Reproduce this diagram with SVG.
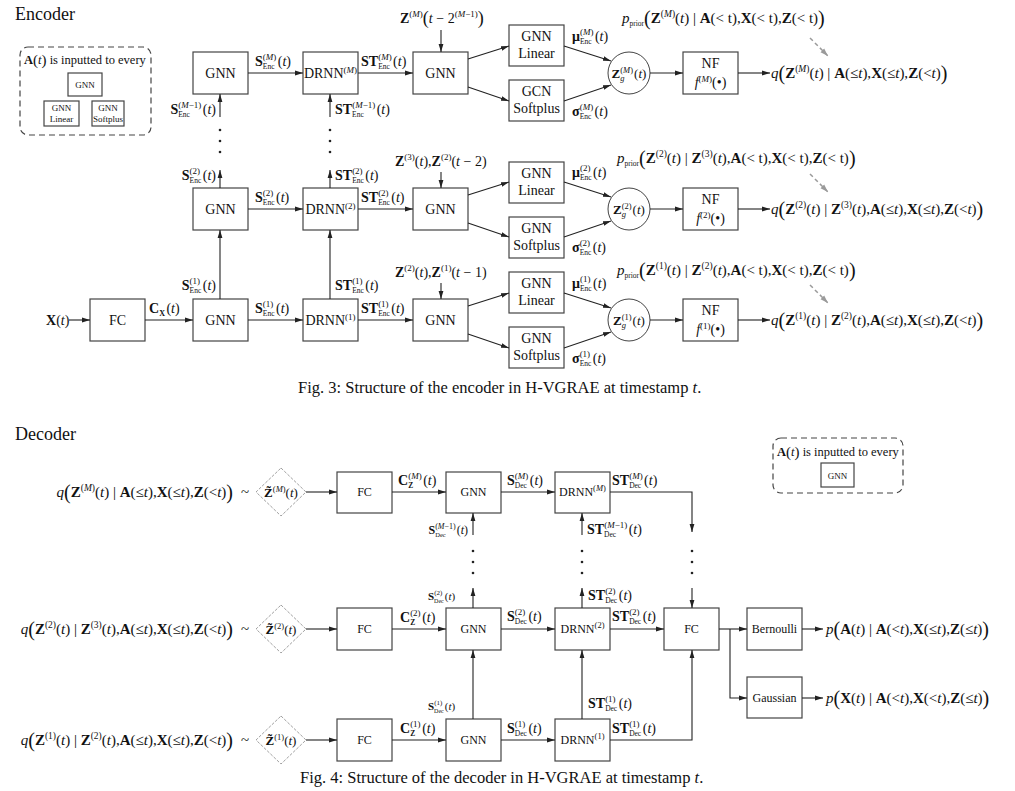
<svg xmlns="http://www.w3.org/2000/svg" width="1015" height="791" viewBox="0 0 1015 791">
<defs>
<style>
.t{font-family:"Liberation Serif","Times New Roman",serif;fill:#111}
.b{font-weight:bold}
.i{font-style:italic}
.bx{fill:#fff;stroke:#444;stroke-width:1.2}
.ln{fill:none;stroke:#222;stroke-width:1.1}
.ar{marker-end:url(#ah)}
.dl{fill:none;stroke:#444;stroke-width:1.2;stroke-dasharray:6 4}
.gd{fill:none;stroke:#9a9a9a;stroke-width:1.5;stroke-dasharray:4 3;marker-end:url(#ahg)}
.dm{fill:#fff;stroke:#888;stroke-width:0.8;stroke-dasharray:3 1.5}
.bl{font-size:14px;text-anchor:middle}
.sl{font-size:12px;text-anchor:middle}
.lg{font-size:9px;text-anchor:middle}
.lb{font-size:14px}
.q{font-size:15px}
.cap{font-size:16.5px}
.dot{fill:#222}
</style>
<marker id="ah" markerUnits="userSpaceOnUse" markerWidth="8" markerHeight="8" viewBox="0 0 8 8" refX="8" refY="4" orient="auto"><path d="M0,1.6 L8,4 L0,6.4 z" fill="#222"/></marker>
<marker id="ahg" markerUnits="userSpaceOnUse" markerWidth="8" markerHeight="8" viewBox="0 0 8 8" refX="8" refY="4" orient="auto"><path d="M0,1.4 L8,4 L0,6.6 z" fill="#9a9a9a"/></marker>
</defs>
<rect width="1015" height="791" fill="#fff"/>

<!-- ================= ENCODER ================= -->
<text class="t" x="15" y="20" font-size="18">Encoder</text>

<g id="enc-legend">
<rect class="dl" x="20" y="47" width="131" height="88" rx="8"/>
<text class="t" x="24" y="64" font-size="12.5"><tspan class="b">A</tspan><tspan font-size="15" dy="1">(</tspan><tspan class="i" dy="-1">t</tspan><tspan font-size="15" dy="1">)</tspan><tspan dy="-1"> is inputted to every</tspan></text>
<rect class="bx" x="68" y="73" width="34" height="23"/>
<text class="t lg" x="85" y="88">GNN</text>
<rect class="bx" x="44" y="101" width="35" height="25"/>
<text class="t lg" x="61.5" y="111">GNN</text>
<text class="t lg" x="61.5" y="122">Linear</text>
<rect class="bx" x="92" y="101" width="32" height="25"/>
<text class="t lg" x="108" y="111" font-size="8.5">GNN</text>
<text class="t lg" x="108" y="122" font-size="8.5">Softplus</text>
</g>

<!-- Encoder boxes -->
<g id="enc-fc"><rect class="bx" x="90" y="299" width="55" height="42"/><text class="t bl" x="117.5" y="325">FC</text></g>

<g id="enc-gnn-M"><rect class="bx" x="193" y="52" width="55" height="42"/><text class="t bl" x="220.5" y="78">GNN</text></g>
<g id="enc-gnn-2"><rect class="bx" x="193" y="188" width="55" height="42"/><text class="t bl" x="220.5" y="214">GNN</text></g>
<g id="enc-gnn-1"><rect class="bx" x="193" y="299" width="55" height="42"/><text class="t bl" x="220.5" y="325">GNN</text></g>

<g id="enc-drnn-M"><rect class="bx" x="303" y="52" width="55" height="42"/><text class="t bl" x="330.5" y="78" font-size="13">DRNN<tspan font-size="9" dy="-5">(<tspan class="i">M</tspan>)</tspan></text></g>
<g id="enc-drnn-2"><rect class="bx" x="303" y="188" width="55" height="42"/><text class="t bl" x="330.5" y="214" font-size="13">DRNN<tspan font-size="9" dy="-5">(2)</tspan></text></g>
<g id="enc-drnn-1"><rect class="bx" x="303" y="299" width="55" height="42"/><text class="t bl" x="330.5" y="325" font-size="13">DRNN<tspan font-size="9" dy="-5">(1)</tspan></text></g>

<g id="enc-gnn3-M"><rect class="bx" x="413" y="52" width="55" height="42"/><text class="t bl" x="440.5" y="78">GNN</text></g>
<g id="enc-gnn3-2"><rect class="bx" x="413" y="188" width="55" height="42"/><text class="t bl" x="440.5" y="214">GNN</text></g>
<g id="enc-gnn3-1"><rect class="bx" x="413" y="299" width="55" height="42"/><text class="t bl" x="440.5" y="325">GNN</text></g>

<g id="enc-lin-M"><rect class="bx" x="509" y="25" width="55" height="41"/><text class="t bl" x="536.5" y="41">GNN</text><text class="t bl" x="536.5" y="58">Linear</text></g>
<g id="enc-soft-M"><rect class="bx" x="509" y="80" width="55" height="41"/><text class="t bl" x="536.5" y="96">GCN</text><text class="t bl" x="536.5" y="113">Softplus</text></g>
<g id="enc-lin-2"><rect class="bx" x="509" y="162" width="55" height="41"/><text class="t bl" x="536.5" y="178">GNN</text><text class="t bl" x="536.5" y="195">Linear</text></g>
<g id="enc-soft-2"><rect class="bx" x="509" y="217" width="55" height="41"/><text class="t bl" x="536.5" y="233">GNN</text><text class="t bl" x="536.5" y="250">Softplus</text></g>
<g id="enc-lin-1"><rect class="bx" x="509" y="272" width="55" height="41"/><text class="t bl" x="536.5" y="288">GNN</text><text class="t bl" x="536.5" y="305">Linear</text></g>
<g id="enc-soft-1"><rect class="bx" x="509" y="327" width="55" height="41"/><text class="t bl" x="536.5" y="343">GNN</text><text class="t bl" x="536.5" y="360">Softplus</text></g>

<g id="enc-zg-M"><circle cx="629" cy="73" r="21" fill="#fff" stroke="#444" stroke-width="1"/><text class="t" x="629" y="78" font-size="13" text-anchor="middle"><tspan class="b">Z</tspan><tspan font-size="8.5" dy="-5">(<tspan class="i">M</tspan>)</tspan><tspan font-size="8.5" class="i" dx="-12.7" dy="8">g</tspan><tspan dx="9.5" dy="-3">(<tspan class="i">t</tspan>)</tspan></text></g>
<g id="enc-zg-2"><circle cx="629" cy="209" r="21" fill="#fff" stroke="#444" stroke-width="1"/><text class="t" x="629" y="214" font-size="13" text-anchor="middle"><tspan class="b">Z</tspan><tspan font-size="8.5" dy="-5">(2)</tspan><tspan font-size="8.5" class="i" dx="-9.9" dy="8">g</tspan><tspan dx="6.5" dy="-3">(<tspan class="i">t</tspan>)</tspan></text></g>
<g id="enc-zg-1"><circle cx="629" cy="320" r="21" fill="#fff" stroke="#444" stroke-width="1"/><text class="t" x="629" y="325" font-size="13" text-anchor="middle"><tspan class="b">Z</tspan><tspan font-size="8.5" dy="-5">(1)</tspan><tspan font-size="8.5" class="i" dx="-9.9" dy="8">g</tspan><tspan dx="6.5" dy="-3">(<tspan class="i">t</tspan>)</tspan></text></g>

<g id="enc-nf-M"><rect class="bx" x="683" y="52" width="55" height="42"/><text class="t bl" x="710.5" y="68">NF</text><text class="t bl" x="710.5" y="87"><tspan class="i">f</tspan><tspan font-size="9" dy="-5">(<tspan class="i">M</tspan>)</tspan><tspan dy="5">(•)</tspan></text></g>
<g id="enc-nf-2"><rect class="bx" x="683" y="188" width="55" height="42"/><text class="t bl" x="710.5" y="204">NF</text><text class="t bl" x="710.5" y="223"><tspan class="i">f</tspan><tspan font-size="9" dy="-5">(2)</tspan><tspan dy="5">(•)</tspan></text></g>
<g id="enc-nf-1"><rect class="bx" x="683" y="299" width="55" height="42"/><text class="t bl" x="710.5" y="315">NF</text><text class="t bl" x="710.5" y="334"><tspan class="i">f</tspan><tspan font-size="9" dy="-5">(1)</tspan><tspan dy="5">(•)</tspan></text></g>

<!-- Encoder connectors -->
<g id="enc-connectors" class="ln">
<line class="ar" x1="69" y1="320" x2="90" y2="320"/>
<line class="ar" x1="145" y1="320" x2="193" y2="320"/>
<line class="ar" x1="248" y1="73" x2="303" y2="73"/>
<line class="ar" x1="358" y1="73" x2="413" y2="73"/>
<line class="ar" x1="248" y1="209" x2="303" y2="209"/>
<line class="ar" x1="358" y1="209" x2="413" y2="209"/>
<line class="ar" x1="248" y1="320" x2="303" y2="320"/>
<line class="ar" x1="358" y1="320" x2="413" y2="320"/>
<line class="ar" x1="468" y1="59" x2="509" y2="46"/>
<line class="ar" x1="468" y1="87" x2="509" y2="101"/>
<line class="ar" x1="468" y1="195" x2="509" y2="182"/>
<line class="ar" x1="468" y1="223" x2="509" y2="237"/>
<line class="ar" x1="468" y1="306" x2="509" y2="293"/>
<line class="ar" x1="468" y1="334" x2="509" y2="348"/>
<line class="ar" x1="564" y1="46" x2="611" y2="61"/>
<line class="ar" x1="564" y1="101" x2="611" y2="85"/>
<line class="ar" x1="564" y1="182" x2="611" y2="197"/>
<line class="ar" x1="564" y1="237" x2="611" y2="221"/>
<line class="ar" x1="564" y1="293" x2="611" y2="308"/>
<line class="ar" x1="564" y1="348" x2="611" y2="332"/>
<line class="ar" x1="650" y1="73" x2="683" y2="73"/>
<line class="ar" x1="650" y1="209" x2="683" y2="209"/>
<line class="ar" x1="650" y1="320" x2="683" y2="320"/>
<line class="ar" x1="738" y1="73" x2="770" y2="73"/>
<line class="ar" x1="738" y1="209" x2="770" y2="209"/>
<line class="ar" x1="738" y1="320" x2="770" y2="320"/>
<line class="ar" x1="441" y1="30" x2="441" y2="52"/>
<line class="ar" x1="441" y1="172" x2="441" y2="188"/>
<line class="ar" x1="441" y1="283" x2="441" y2="299"/>
<line class="ar" x1="220" y1="299" x2="220" y2="230"/>
<line class="ar" x1="330" y1="299" x2="330" y2="230"/>
<line class="ar" x1="220" y1="188" x2="220" y2="170"/>
<line class="ar" x1="330" y1="188" x2="330" y2="170"/>
<line class="ar" x1="220" y1="117" x2="220" y2="94"/>
<line class="ar" x1="330" y1="117" x2="330" y2="94"/>
<line class="gd" x1="810" y1="38" x2="828" y2="56"/>
<line class="gd" x1="810" y1="174" x2="828" y2="192"/>
<line class="gd" x1="810" y1="285" x2="828" y2="303"/>
</g>
<g id="enc-dots" class="dot">
<circle cx="220" cy="130" r="1.3"/><circle cx="220" cy="141" r="1.3"/><circle cx="220" cy="152" r="1.3"/>
<circle cx="330" cy="130" r="1.3"/><circle cx="330" cy="141" r="1.3"/><circle cx="330" cy="152" r="1.3"/>
</g>

<!-- Encoder labels -->
<g id="enc-labels" class="t lb">
<text x="46" y="325"><tspan class="b">X</tspan>(<tspan class="i">t</tspan>)</text>
<text x="149" y="313"><tspan class="b">C</tspan><tspan class="b" font-size="8" dy="3">X</tspan><tspan dx="1.5" dy="-3">(<tspan class="i">t</tspan>)</tspan></text>

<text x="255" y="66"><tspan class="b">S</tspan><tspan font-size="9" dy="-6">(<tspan class="i">M</tspan>)</tspan><tspan font-size="7.5" dx="-13.5" dy="9">Enc</tspan><tspan dx="3.3" dy="-3">(<tspan class="i">t</tspan>)</tspan></text>
<text x="361" y="66"><tspan class="b">ST</tspan><tspan font-size="9" dy="-6">(<tspan class="i">M</tspan>)</tspan><tspan font-size="7.5" dx="-13.5" dy="9">Enc</tspan><tspan dx="3.3" dy="-3">(<tspan class="i">t</tspan>)</tspan></text>
<text x="216" y="114" text-anchor="end"><tspan class="b">S</tspan><tspan font-size="9" dy="-6">(<tspan class="i">M</tspan>−1)</tspan><tspan font-size="7.5" dx="-23.1" dy="9">Enc</tspan><tspan dx="12.9" dy="-3">(<tspan class="i">t</tspan>)</tspan></text>
<text x="335" y="114"><tspan class="b">ST</tspan><tspan font-size="9" dy="-6">(<tspan class="i">M</tspan>−1)</tspan><tspan font-size="7.5" dx="-23.1" dy="9">Enc</tspan><tspan dx="12.9" dy="-3">(<tspan class="i">t</tspan>)</tspan></text>

<text x="255" y="202"><tspan class="b">S</tspan><tspan font-size="9" dy="-6">(2)</tspan><tspan font-size="7.5" dx="-10.5" dy="9">Enc</tspan><tspan dx="1.5" dy="-3">(<tspan class="i">t</tspan>)</tspan></text>
<text x="361" y="202"><tspan class="b">ST</tspan><tspan font-size="9" dy="-6">(2)</tspan><tspan font-size="7.5" dx="-10.5" dy="9">Enc</tspan><tspan dx="1.5" dy="-3">(<tspan class="i">t</tspan>)</tspan></text>
<text x="216" y="180" text-anchor="end"><tspan class="b">S</tspan><tspan font-size="9" dy="-6">(2)</tspan><tspan font-size="7.5" dx="-10.5" dy="9">Enc</tspan><tspan dx="1.5" dy="-3">(<tspan class="i">t</tspan>)</tspan></text>
<text x="335" y="180"><tspan class="b">ST</tspan><tspan font-size="9" dy="-6">(2)</tspan><tspan font-size="7.5" dx="-10.5" dy="9">Enc</tspan><tspan dx="1.5" dy="-3">(<tspan class="i">t</tspan>)</tspan></text>

<text x="255" y="313"><tspan class="b">S</tspan><tspan font-size="9" dy="-6">(1)</tspan><tspan font-size="7.5" dx="-10.5" dy="9">Enc</tspan><tspan dx="1.5" dy="-3">(<tspan class="i">t</tspan>)</tspan></text>
<text x="361" y="313"><tspan class="b">ST</tspan><tspan font-size="9" dy="-6">(1)</tspan><tspan font-size="7.5" dx="-10.5" dy="9">Enc</tspan><tspan dx="1.5" dy="-3">(<tspan class="i">t</tspan>)</tspan></text>
<text x="216" y="290" text-anchor="end"><tspan class="b">S</tspan><tspan font-size="9" dy="-6">(1)</tspan><tspan font-size="7.5" dx="-10.5" dy="9">Enc</tspan><tspan dx="1.5" dy="-3">(<tspan class="i">t</tspan>)</tspan></text>
<text x="335" y="290"><tspan class="b">ST</tspan><tspan font-size="9" dy="-6">(1)</tspan><tspan font-size="7.5" dx="-10.5" dy="9">Enc</tspan><tspan dx="1.5" dy="-3">(<tspan class="i">t</tspan>)</tspan></text>

<text x="400" y="23"><tspan class="b">Z</tspan><tspan font-size="9" dy="-6">(<tspan class="i">M</tspan>)</tspan><tspan font-size="18" dy="7">(</tspan><tspan class="i" dy="-1">t</tspan><tspan> − 2</tspan><tspan font-size="9" dy="-6">(<tspan class="i">M</tspan>−1)</tspan><tspan font-size="18" dy="7">)</tspan></text>
<text x="395" y="166"><tspan class="b">Z</tspan><tspan font-size="9" dy="-6">(3)</tspan><tspan dy="6">(<tspan class="i">t</tspan>),</tspan><tspan class="b">Z</tspan><tspan font-size="9" dy="-6">(2)</tspan><tspan dy="6">(<tspan class="i">t</tspan> − 2)</tspan></text>
<text x="395" y="277"><tspan class="b">Z</tspan><tspan font-size="9" dy="-6">(2)</tspan><tspan dy="6">(<tspan class="i">t</tspan>),</tspan><tspan class="b">Z</tspan><tspan font-size="9" dy="-6">(1)</tspan><tspan dy="6">(<tspan class="i">t</tspan> − 1)</tspan></text>

<text x="572" y="41"><tspan class="b">μ</tspan><tspan font-size="9" dy="-6">(<tspan class="i">M</tspan>)</tspan><tspan font-size="7.5" dx="-13.5" dy="9">Enc</tspan><tspan dx="3.3" dy="-3">(<tspan class="i">t</tspan>)</tspan></text>
<text x="572" y="116"><tspan class="b">σ</tspan><tspan font-size="9" dy="-6">(<tspan class="i">M</tspan>)</tspan><tspan font-size="7.5" dx="-13.5" dy="9">Enc</tspan><tspan dx="3.3" dy="-3">(<tspan class="i">t</tspan>)</tspan></text>
<text x="572" y="177"><tspan class="b">μ</tspan><tspan font-size="9" dy="-6">(2)</tspan><tspan font-size="7.5" dx="-10.5" dy="9">Enc</tspan><tspan dx="1.5" dy="-3">(<tspan class="i">t</tspan>)</tspan></text>
<text x="572" y="252"><tspan class="b">σ</tspan><tspan font-size="9" dy="-6">(2)</tspan><tspan font-size="7.5" dx="-10.5" dy="9">Enc</tspan><tspan dx="1.5" dy="-3">(<tspan class="i">t</tspan>)</tspan></text>
<text x="572" y="288"><tspan class="b">μ</tspan><tspan font-size="9" dy="-6">(1)</tspan><tspan font-size="7.5" dx="-10.5" dy="9">Enc</tspan><tspan dx="1.5" dy="-3">(<tspan class="i">t</tspan>)</tspan></text>
<text x="572" y="363"><tspan class="b">σ</tspan><tspan font-size="9" dy="-6">(1)</tspan><tspan font-size="7.5" dx="-10.5" dy="9">Enc</tspan><tspan dx="1.5" dy="-3">(<tspan class="i">t</tspan>)</tspan></text>
</g>

<g id="enc-dists" class="t q">
<text x="771" y="78"><tspan class="i">q</tspan><tspan font-size="20" dy="1.5">(</tspan><tspan class="b" dy="-1.5">Z</tspan><tspan font-size="9.5" dy="-6.5">(<tspan class="i">M</tspan>)</tspan><tspan dy="6.5">(<tspan class="i">t</tspan>) | </tspan><tspan class="b">A</tspan>(≤<tspan class="i">t</tspan>),<tspan class="b">X</tspan>(≤<tspan class="i">t</tspan>),<tspan class="b">Z</tspan>(&lt;<tspan class="i">t</tspan>)<tspan font-size="20" dy="1.5">)</tspan></text>
<text x="771" y="214"><tspan class="i">q</tspan><tspan font-size="20" dy="1.5">(</tspan><tspan class="b" dy="-1.5">Z</tspan><tspan font-size="9.5" dy="-6.5">(2)</tspan><tspan dy="6.5">(<tspan class="i">t</tspan>) | </tspan><tspan class="b">Z</tspan><tspan font-size="9.5" dy="-6.5">(3)</tspan><tspan dy="6.5">(<tspan class="i">t</tspan>),</tspan><tspan class="b">A</tspan>(≤<tspan class="i">t</tspan>),<tspan class="b">X</tspan>(≤<tspan class="i">t</tspan>),<tspan class="b">Z</tspan>(&lt;<tspan class="i">t</tspan>)<tspan font-size="20" dy="1.5">)</tspan></text>
<text x="771" y="325"><tspan class="i">q</tspan><tspan font-size="20" dy="1.5">(</tspan><tspan class="b" dy="-1.5">Z</tspan><tspan font-size="9.5" dy="-6.5">(1)</tspan><tspan dy="6.5">(<tspan class="i">t</tspan>) | </tspan><tspan class="b">Z</tspan><tspan font-size="9.5" dy="-6.5">(2)</tspan><tspan dy="6.5">(<tspan class="i">t</tspan>),</tspan><tspan class="b">A</tspan>(≤<tspan class="i">t</tspan>),<tspan class="b">X</tspan>(≤<tspan class="i">t</tspan>),<tspan class="b">Z</tspan>(&lt;<tspan class="i">t</tspan>)<tspan font-size="20" dy="1.5">)</tspan></text>

<text x="622" y="23"><tspan class="i">p</tspan><tspan font-size="7.5" dy="3">prior</tspan><tspan font-size="20" dy="-1.5">(</tspan><tspan class="b" dy="-1.5">Z</tspan><tspan font-size="9.5" dy="-6.5">(<tspan class="i">M</tspan>)</tspan><tspan dy="6.5">(<tspan class="i">t</tspan>) | </tspan><tspan class="b">A</tspan>(&lt; t),<tspan class="b">X</tspan>(&lt; t),<tspan class="b">Z</tspan>(&lt; t)<tspan font-size="20" dy="1.5">)</tspan></text>
<text x="617" y="163"><tspan class="i">p</tspan><tspan font-size="7.5" dy="3">prior</tspan><tspan font-size="20" dy="-1.5">(</tspan><tspan class="b" dy="-1.5">Z</tspan><tspan font-size="9.5" dy="-6.5">(2)</tspan><tspan dy="6.5">(<tspan class="i">t</tspan>) | </tspan><tspan class="b">Z</tspan><tspan font-size="9.5" dy="-6.5">(3)</tspan><tspan dy="6.5">(<tspan class="i">t</tspan>),</tspan><tspan class="b">A</tspan>(&lt; t),<tspan class="b">X</tspan>(&lt; t),<tspan class="b">Z</tspan>(&lt; t)<tspan font-size="20" dy="1.5">)</tspan></text>
<text x="617" y="275"><tspan class="i">p</tspan><tspan font-size="7.5" dy="3">prior</tspan><tspan font-size="20" dy="-1.5">(</tspan><tspan class="b" dy="-1.5">Z</tspan><tspan font-size="9.5" dy="-6.5">(1)</tspan><tspan dy="6.5">(<tspan class="i">t</tspan>) | </tspan><tspan class="b">Z</tspan><tspan font-size="9.5" dy="-6.5">(2)</tspan><tspan dy="6.5">(<tspan class="i">t</tspan>),</tspan><tspan class="b">A</tspan>(&lt; t),<tspan class="b">X</tspan>(&lt; t),<tspan class="b">Z</tspan>(&lt; t)<tspan font-size="20" dy="1.5">)</tspan></text>
</g>

<text class="t cap" x="298" y="393">Fig. 3: Structure of the encoder in H-VGRAE at timestamp <tspan class="i">t</tspan>.</text>

<!-- ================= DECODER ================= -->
<text class="t" x="15" y="440" font-size="18">Decoder</text>

<g id="dec-legend">
<rect class="dl" x="773" y="438" width="130" height="55" rx="8"/>
<text class="t" x="777" y="456" font-size="12.5"><tspan class="b">A</tspan><tspan font-size="15" dy="1">(</tspan><tspan class="i" dy="-1">t</tspan><tspan font-size="15" dy="1">)</tspan><tspan dy="-1"> is inputted to every</tspan></text>
<rect class="bx" x="821" y="463" width="33" height="24"/>
<text class="t lg" x="837.5" y="479">GNN</text>
</g>

<g id="dec-z-M"><path class="dm" d="M281,468 L306,492 L281,516 L256,492 Z"/><text class="t" x="281" y="497" font-size="13" text-anchor="middle"><tspan class="b">Z&#x303;</tspan><tspan font-size="8.5" dy="-5">(<tspan class="i">M</tspan>)</tspan><tspan dy="5">(<tspan class="i">t</tspan>)</tspan></text></g>
<g id="dec-z-2"><path class="dm" d="M281,605 L306,629 L281,653 L256,629 Z"/><text class="t" x="281" y="634" font-size="13" text-anchor="middle"><tspan class="b">Z&#x303;</tspan><tspan font-size="8.5" dy="-5">(2)</tspan><tspan dy="5">(<tspan class="i">t</tspan>)</tspan></text></g>
<g id="dec-z-1"><path class="dm" d="M281,716 L306,740 L281,764 L256,740 Z"/><text class="t" x="281" y="745" font-size="13" text-anchor="middle"><tspan class="b">Z&#x303;</tspan><tspan font-size="8.5" dy="-5">(1)</tspan><tspan dy="5">(<tspan class="i">t</tspan>)</tspan></text></g>

<g id="dec-fc-M"><rect class="bx" x="337" y="472" width="55" height="41"/><text class="t sl" x="364.5" y="496">FC</text></g>
<g id="dec-fc-2"><rect class="bx" x="337" y="608" width="55" height="42"/><text class="t sl" x="364.5" y="633">FC</text></g>
<g id="dec-fc-1"><rect class="bx" x="337" y="719" width="55" height="42"/><text class="t sl" x="364.5" y="744">FC</text></g>

<g id="dec-gnn-M"><rect class="bx" x="446" y="472" width="55" height="41"/><text class="t sl" x="473.5" y="496">GNN</text></g>
<g id="dec-gnn-2"><rect class="bx" x="446" y="608" width="55" height="42"/><text class="t sl" x="473.5" y="633">GNN</text></g>
<g id="dec-gnn-1"><rect class="bx" x="446" y="719" width="55" height="42"/><text class="t sl" x="473.5" y="744">GNN</text></g>

<g id="dec-drnn-M"><rect class="bx" x="555" y="472" width="55" height="41"/><text class="t sl" x="582.5" y="496">DRNN<tspan font-size="8.5" dy="-5">(<tspan class="i">M</tspan>)</tspan></text></g>
<g id="dec-drnn-2"><rect class="bx" x="555" y="608" width="55" height="42"/><text class="t sl" x="582.5" y="633">DRNN<tspan font-size="8.5" dy="-5">(2)</tspan></text></g>
<g id="dec-drnn-1"><rect class="bx" x="555" y="719" width="55" height="42"/><text class="t sl" x="582.5" y="744">DRNN<tspan font-size="8.5" dy="-5">(1)</tspan></text></g>

<g id="dec-fc-out"><rect class="bx" x="664" y="608" width="55" height="42"/><text class="t sl" x="691.5" y="633">FC</text></g>
<g id="dec-bernoulli"><rect class="bx" x="747" y="608" width="55" height="42"/><text class="t sl" x="774.5" y="633">Bernoulli</text></g>
<g id="dec-gaussian"><rect class="bx" x="747" y="677" width="55" height="41"/><text class="t sl" x="774.5" y="702">Gaussian</text></g>

<g id="dec-connectors" class="ln">
<line class="ar" x1="306" y1="492" x2="337" y2="492"/>
<line class="ar" x1="392" y1="492" x2="446" y2="492"/>
<line class="ar" x1="501" y1="492" x2="555" y2="492"/>
<path class="ar" d="M610,492 H692 V532"/>
<line class="ar" x1="473" y1="535" x2="473" y2="513"/>
<line class="ar" x1="582" y1="535" x2="582" y2="513"/>
<line class="ar" x1="306" y1="629" x2="337" y2="629"/>
<line class="ar" x1="392" y1="629" x2="446" y2="629"/>
<line class="ar" x1="501" y1="629" x2="555" y2="629"/>
<line class="ar" x1="610" y1="629" x2="664" y2="629"/>
<line class="ar" x1="473" y1="608" x2="473" y2="588"/>
<line class="ar" x1="582" y1="608" x2="582" y2="588"/>
<line class="ar" x1="692" y1="588" x2="692" y2="608"/>
<line class="ar" x1="719" y1="629" x2="747" y2="629"/>
<path class="ar" d="M730,629 V698 H747"/>
<line class="ar" x1="802" y1="629" x2="823" y2="629"/>
<line class="ar" x1="802" y1="698" x2="823" y2="698"/>
<line class="ar" x1="306" y1="740" x2="337" y2="740"/>
<line class="ar" x1="392" y1="740" x2="446" y2="740"/>
<line class="ar" x1="501" y1="740" x2="555" y2="740"/>
<line class="ar" x1="473" y1="719" x2="473" y2="650"/>
<line class="ar" x1="582" y1="719" x2="582" y2="650"/>
<path class="ar" d="M610,740 H692 V650"/>
</g>
<g id="dec-dots" class="dot">
<circle cx="473" cy="551" r="1.3"/><circle cx="473" cy="562" r="1.3"/><circle cx="473" cy="573" r="1.3"/>
<circle cx="582" cy="551" r="1.3"/><circle cx="582" cy="562" r="1.3"/><circle cx="582" cy="573" r="1.3"/>
<circle cx="692" cy="551" r="1.3"/><circle cx="692" cy="562" r="1.3"/><circle cx="692" cy="573" r="1.3"/>
</g>

<g id="dec-labels" class="t lb">
<text x="398" y="485"><tspan class="b">C</tspan><tspan font-size="9" dy="-6">(<tspan class="i">M</tspan>)</tspan><tspan class="b" font-size="7.5" dx="-13.5" dy="9">Z</tspan><tspan dx="10" dy="-3">(<tspan class="i">t</tspan>)</tspan></text>
<text x="507" y="485"><tspan class="b">S</tspan><tspan font-size="9" dy="-6">(<tspan class="i">M</tspan>)</tspan><tspan font-size="7.5" dx="-13.5" dy="9">Dec</tspan><tspan dx="2.9" dy="-3">(<tspan class="i">t</tspan>)</tspan></text>
<text x="612" y="485"><tspan class="b">ST</tspan><tspan font-size="9" dy="-6">(<tspan class="i">M</tspan>)</tspan><tspan font-size="7.5" dx="-13.5" dy="9">Dec</tspan><tspan dx="2.9" dy="-3">(<tspan class="i">t</tspan>)</tspan></text>
<text x="468" y="534" text-anchor="end" font-size="12"><tspan class="b">S</tspan><tspan font-size="8" dy="-5">(<tspan class="i">M</tspan>−1)</tspan><tspan font-size="6.5" dx="-20.5" dy="8">Dec</tspan><tspan dx="11" dy="-3">(<tspan class="i">t</tspan>)</tspan></text>
<text x="587" y="534"><tspan class="b">ST</tspan><tspan font-size="9" dy="-6">(<tspan class="i">M</tspan>−1)</tspan><tspan font-size="7.5" dx="-23.1" dy="9">Dec</tspan><tspan dx="12.5" dy="-3">(<tspan class="i">t</tspan>)</tspan></text>

<text x="400" y="622"><tspan class="b">C</tspan><tspan font-size="9" dy="-6">(2)</tspan><tspan class="b" font-size="7.5" dx="-10.5" dy="9">Z</tspan><tspan dx="7" dy="-3">(<tspan class="i">t</tspan>)</tspan></text>
<text x="507" y="621"><tspan class="b">S</tspan><tspan font-size="9" dy="-6">(2)</tspan><tspan font-size="7.5" dx="-10.5" dy="9">Dec</tspan><tspan dx="1.5" dy="-3">(<tspan class="i">t</tspan>)</tspan></text>
<text x="612" y="621"><tspan class="b">ST</tspan><tspan font-size="9" dy="-6">(2)</tspan><tspan font-size="7.5" dx="-10.5" dy="9">Dec</tspan><tspan dx="1.5" dy="-3">(<tspan class="i">t</tspan>)</tspan></text>
<text x="428" y="600" font-size="11"><tspan class="b">S</tspan><tspan font-size="7" dy="-5">(2)</tspan><tspan font-size="6" dx="-8.2" dy="8">Dec</tspan><tspan dx="1" dy="-3">(<tspan class="i">t</tspan>)</tspan></text>
<text x="588" y="600"><tspan class="b">ST</tspan><tspan font-size="9" dy="-6">(2)</tspan><tspan font-size="7.5" dx="-10.5" dy="9">Dec</tspan><tspan dx="1.5" dy="-3">(<tspan class="i">t</tspan>)</tspan></text>

<text x="400" y="733"><tspan class="b">C</tspan><tspan font-size="9" dy="-6">(1)</tspan><tspan class="b" font-size="7.5" dx="-10.5" dy="9">Z</tspan><tspan dx="7" dy="-3">(<tspan class="i">t</tspan>)</tspan></text>
<text x="507" y="733"><tspan class="b">S</tspan><tspan font-size="9" dy="-6">(1)</tspan><tspan font-size="7.5" dx="-10.5" dy="9">Dec</tspan><tspan dx="1.5" dy="-3">(<tspan class="i">t</tspan>)</tspan></text>
<text x="612" y="733"><tspan class="b">ST</tspan><tspan font-size="9" dy="-6">(1)</tspan><tspan font-size="7.5" dx="-10.5" dy="9">Dec</tspan><tspan dx="1.5" dy="-3">(<tspan class="i">t</tspan>)</tspan></text>
<text x="428" y="710" font-size="11"><tspan class="b">S</tspan><tspan font-size="7" dy="-5">(1)</tspan><tspan font-size="6" dx="-8.2" dy="8">Dec</tspan><tspan dx="1" dy="-3">(<tspan class="i">t</tspan>)</tspan></text>
<text x="588" y="708"><tspan class="b">ST</tspan><tspan font-size="9" dy="-6">(1)</tspan><tspan font-size="7.5" dx="-10.5" dy="9">Dec</tspan><tspan dx="1.5" dy="-3">(<tspan class="i">t</tspan>)</tspan></text>
</g>

<g id="dec-dists" class="t q">
<text x="233" y="497" text-anchor="end"><tspan class="i">q</tspan><tspan font-size="20" dy="1.5">(</tspan><tspan class="b" dy="-1.5">Z</tspan><tspan font-size="9.5" dy="-6.5">(<tspan class="i">M</tspan>)</tspan><tspan dy="6.5">(<tspan class="i">t</tspan>) | </tspan><tspan class="b">A</tspan>(≤<tspan class="i">t</tspan>),<tspan class="b">X</tspan>(≤<tspan class="i">t</tspan>),<tspan class="b">Z</tspan>(&lt;<tspan class="i">t</tspan>)<tspan font-size="20" dy="1.5">)</tspan></text>
<text x="233" y="634" text-anchor="end"><tspan class="i">q</tspan><tspan font-size="20" dy="1.5">(</tspan><tspan class="b" dy="-1.5">Z</tspan><tspan font-size="9.5" dy="-6.5">(2)</tspan><tspan dy="6.5">(<tspan class="i">t</tspan>) | </tspan><tspan class="b">Z</tspan><tspan font-size="9.5" dy="-6.5">(3)</tspan><tspan dy="6.5">(<tspan class="i">t</tspan>),</tspan><tspan class="b">A</tspan>(≤<tspan class="i">t</tspan>),<tspan class="b">X</tspan>(≤<tspan class="i">t</tspan>),<tspan class="b">Z</tspan>(&lt;<tspan class="i">t</tspan>)<tspan font-size="20" dy="1.5">)</tspan></text>
<text x="233" y="745" text-anchor="end"><tspan class="i">q</tspan><tspan font-size="20" dy="1.5">(</tspan><tspan class="b" dy="-1.5">Z</tspan><tspan font-size="9.5" dy="-6.5">(1)</tspan><tspan dy="6.5">(<tspan class="i">t</tspan>) | </tspan><tspan class="b">Z</tspan><tspan font-size="9.5" dy="-6.5">(2)</tspan><tspan dy="6.5">(<tspan class="i">t</tspan>),</tspan><tspan class="b">A</tspan>(≤<tspan class="i">t</tspan>),<tspan class="b">X</tspan>(≤<tspan class="i">t</tspan>),<tspan class="b">Z</tspan>(&lt;<tspan class="i">t</tspan>)<tspan font-size="20" dy="1.5">)</tspan></text>
<text x="245" y="497" text-anchor="middle">~</text>
<text x="245" y="634" text-anchor="middle">~</text>
<text x="245" y="745" text-anchor="middle">~</text>
<text x="826" y="634"><tspan class="i">p</tspan><tspan font-size="20" dy="1.5">(</tspan><tspan class="b" dy="-1.5">A</tspan>(<tspan class="i">t</tspan>) | <tspan class="b">A</tspan>(&lt;<tspan class="i">t</tspan>),<tspan class="b">X</tspan>(≤<tspan class="i">t</tspan>),<tspan class="b">Z</tspan>(≤<tspan class="i">t</tspan>)<tspan font-size="20" dy="1.5">)</tspan></text>
<text x="826" y="703"><tspan class="i">p</tspan><tspan font-size="20" dy="1.5">(</tspan><tspan class="b" dy="-1.5">X</tspan>(<tspan class="i">t</tspan>) | <tspan class="b">A</tspan>(&lt;<tspan class="i">t</tspan>),<tspan class="b">X</tspan>(&lt;<tspan class="i">t</tspan>),<tspan class="b">Z</tspan>(≤<tspan class="i">t</tspan>)<tspan font-size="20" dy="1.5">)</tspan></text>
</g>

<text class="t cap" x="300" y="783">Fig. 4: Structure of the decoder in H-VGRAE at timestamp <tspan class="i">t</tspan>.</text>
</svg>
